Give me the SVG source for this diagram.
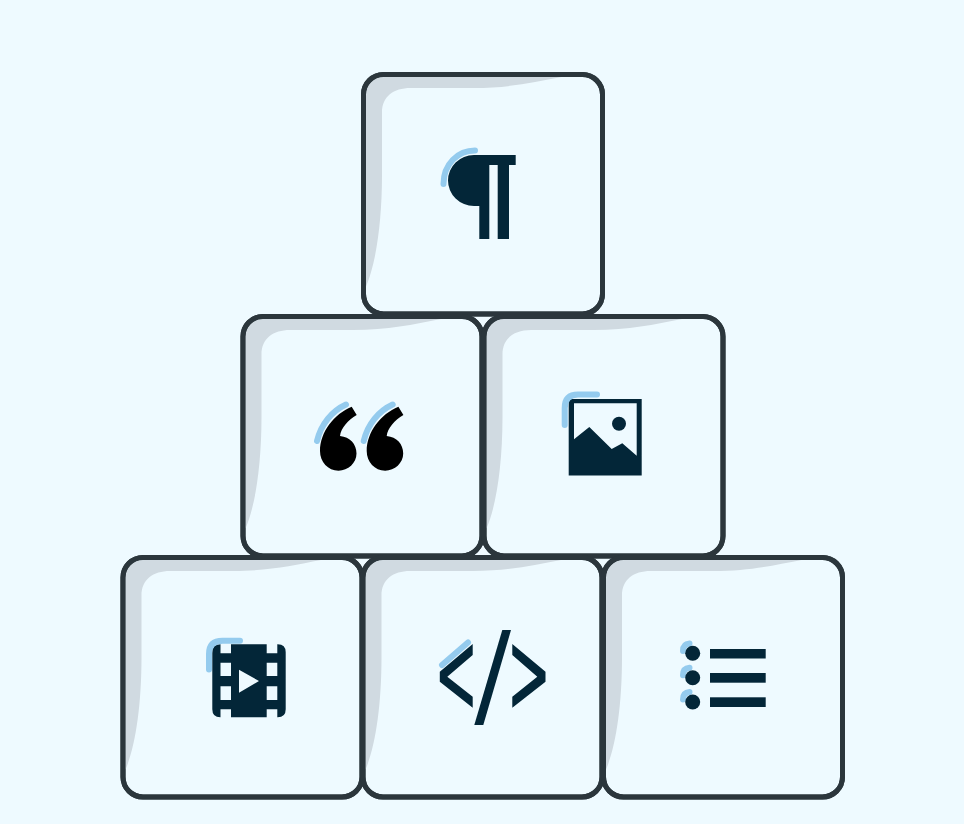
<svg xmlns="http://www.w3.org/2000/svg" width="964" height="824" viewBox="0 0 964 824">
<style>
.box{fill:#eefaff;stroke:#2b363c;stroke-width:5}
.shade{fill:#d0dae1}
.ink{fill:#032638}
.hl{fill:none;stroke:#94cbee;stroke-width:6;stroke-linecap:round}
</style>
<defs>
<g id="key">
<rect class="box" x="0" y="0" width="239" height="239.500" rx="20" ry="20"/>
<path class="shade" d="M21 2.500H198C170 8 145 13.500 110 13.500H47C30 13.500 18.500 22 18.500 38V100C18.500 150 12 190 2.500 212V22C2.500 10 9 2.500 21 2.500Z"/>
<rect x="0" y="0" width="239" height="239.500" rx="20" ry="20" fill="none" stroke="#2b363c" stroke-width="5"/>
</g>
</defs>
<rect width="964" height="824" fill="#eefaff"/>
<g id="node-pilcrow">
<use href="#key" x="363.500" y="74.500"/>
<path class="ink" d="M515.700 155H474A26 25.500 0 0 0 474 206H479.300V239H489.300V165H497.700V239H509V165H515.700Z"/>
<path class="hl" d="M475 150.500C458 150.500 443.500 164 443.500 184"/>
</g>
<g id="node-quote">
<use href="#key" x="243" y="316.500"/>
<path d="M351.700 406.700L356.700 415C348 420 341 428 340 436C350 437 356.500 444 356.500 453.500C356.500 463 348 470.700 338.500 470.700C328 470.700 320 462 320 451C320 432 334 414 351.700 406.700Z" fill="#000"/>
<path d="M398.400 406.700L403.400 415C394.700 420 387.700 428 386.700 436C396.700 437 403.200 444 403.200 453.500C403.200 463 394.700 470.700 385.200 470.700C374.700 470.700 366.700 462 366.700 451C366.700 432 380.700 414 398.400 406.700Z" fill="#000"/>
<path class="hl" d="M317 441C321 424 332 411 346 404.500"/>
<path class="hl" d="M363.700 441C367.700 424 378.700 411 392.700 404.500"/>
</g>
<g id="node-image">
<use href="#key" x="484" y="316.500"/>
<path class="ink" fill-rule="evenodd" d="M568.700 399H641.700V475.500H568.700ZM574 403.300V439.300L589.300 427L611.700 449L622.300 443.300L636.700 455.700V403.300Z"/>
<circle class="ink" cx="619" cy="423.700" r="7"/>
<path class="hl" d="M564.700 425V408Q564.700 394.500 578 394.500H597"/>
</g>
<g id="node-film">
<use href="#key" x="123" y="557.500"/>
<path class="ink" fill-rule="evenodd" d="M220.300 644.300H220.500V653.300H231V644.300H266.700V653.300H277.300V644.300H277.700Q285.700 644.300 285.700 652.300V709.300Q285.700 717.300 277.700 717.300H277.300V709.300H266.700V717.300H231V709.300H220.500V717.300H220.300Q212.300 717.300 212.300 709.300V652.300Q212.300 644.300 220.300 644.300ZM220.500 662.700V676H231V662.700ZM220.500 686.300V700H231V686.300ZM266.700 662.700V676H277.300V662.700ZM266.700 686.300V700H277.300V686.300ZM239 669.700V692.700L259 681Z"/>
<path class="hl" d="M209 669.500V654Q209 640.700 222.500 640.700H240"/>
</g>
<g id="node-code">
<use href="#key" x="363" y="557.500"/>
<path class="ink" d="M472.700 644L439.800 671.700V681.700L472.700 707.700V696.700L447.300 676.700L472.700 655Z"/>
<path class="ink" d="M512.300 644L545.500 671.700V681.700L512.300 707.700V696.700L537.300 676.700L512.300 655Z"/>
<path class="ink" d="M502.300 630H511L483.300 725H474.300Z"/>
<path class="hl" d="M442 665L468 642.500"/>
</g>
<g id="node-list">
<use href="#key" x="603.500" y="557.500"/>
<path class="hl" d="M689.500 643.500Q683 644 683 651"/>
<path class="hl" d="M689.500 667.800Q683 668.300 683 675.300"/>
<path class="hl" d="M689.500 692Q683 692.500 683 699.500"/>
<circle class="ink" cx="692.700" cy="653.300" r="7.500"/>
<circle class="ink" cx="692.700" cy="677.700" r="7.500"/>
<circle class="ink" cx="692.700" cy="702" r="7.500"/>
<rect class="ink" x="710" y="649" width="55.700" height="9.500"/>
<rect class="ink" x="710" y="673" width="55.700" height="9.700"/>
<rect class="ink" x="710" y="697.300" width="55.700" height="9.700"/>
</g>
</svg>
